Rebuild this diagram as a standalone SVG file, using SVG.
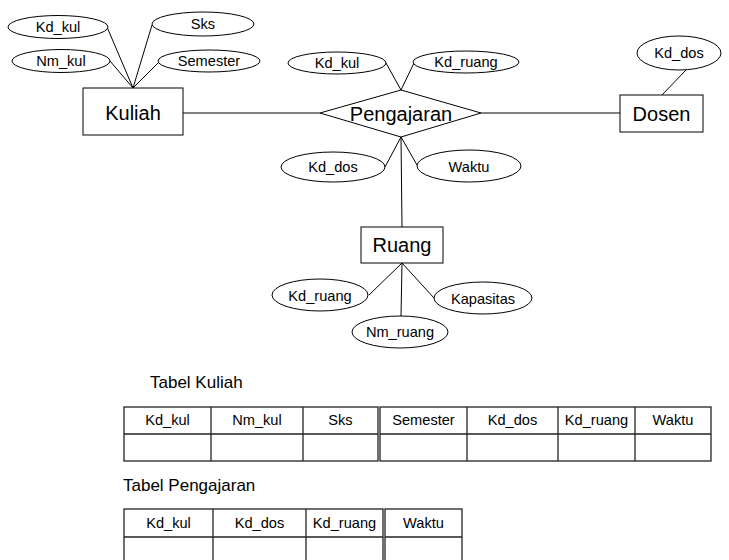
<svg xmlns="http://www.w3.org/2000/svg" width="729" height="560" viewBox="0 0 729 560">
  <style>
    .shape { fill: #fff; stroke: #000; stroke-width: 1; }
    .link { stroke: #000; stroke-width: 1; fill: none; }
    .attr { font-family: "Liberation Sans", Arial, sans-serif; font-size: 14.6px; fill: #000; text-anchor: middle; }
    .ent { font-family: "Liberation Sans", Arial, sans-serif; font-size: 20px; fill: #000; text-anchor: middle; }
    .title { font-family: "Liberation Sans", Arial, sans-serif; font-size: 17px; fill: #000; }
    .grid { fill: #fff; stroke: #222; stroke-width: 1.3; }
  </style>

  <!-- connectors -->
  <g id="connectors">
    <line class="link" x1="107" y1="27" x2="133" y2="88"/>
    <line class="link" x1="110" y1="61" x2="133" y2="88"/>
    <line class="link" x1="152" y1="25" x2="133" y2="88"/>
    <line class="link" x1="158" y1="63" x2="133" y2="88"/>
    <line class="link" x1="183" y1="113" x2="320" y2="113"/>
    <line class="link" x1="386" y1="63" x2="401" y2="90"/>
    <line class="link" x1="414" y1="63" x2="401" y2="90"/>
    <line class="link" x1="481" y1="113" x2="620" y2="113"/>
    <line class="link" x1="686" y1="70" x2="662" y2="95"/>
    <line class="link" x1="401" y1="137" x2="385" y2="167"/>
    <line class="link" x1="401" y1="137" x2="417" y2="165"/>
    <line class="link" x1="401" y1="137" x2="402" y2="227"/>
    <line class="link" x1="402" y1="263" x2="369" y2="295"/>
    <line class="link" x1="402" y1="263" x2="401" y2="316"/>
    <line class="link" x1="402" y1="263" x2="434" y2="298"/>
  </g>

  <!-- entity: Kuliah -->
  <g id="kuliah">
    <rect class="shape" x="83" y="88" width="100" height="47"/>
    <text class="ent" x="133" y="120">Kuliah</text>
  </g>
  <g id="kuliah-kd_kul">
    <ellipse class="shape" cx="58" cy="27" rx="50" ry="11.5"/>
    <text class="attr" x="58" y="32">Kd_kul</text>
  </g>
  <g id="kuliah-nm_kul">
    <ellipse class="shape" cx="61" cy="61" rx="49" ry="11.5"/>
    <text class="attr" x="61" y="66">Nm_kul</text>
  </g>
  <g id="kuliah-sks">
    <ellipse class="shape" cx="203" cy="24" rx="51" ry="12"/>
    <text class="attr" x="203" y="29">Sks</text>
  </g>
  <g id="kuliah-semester">
    <ellipse class="shape" cx="209" cy="61" rx="51" ry="11"/>
    <text class="attr" x="209" y="66">Semester</text>
  </g>

  <!-- relationship: Pengajaran -->
  <g id="pengajaran">
    <polygon class="shape" points="401,90 481,113 401,137 320,113"/>
    <text class="ent" x="401" y="121">Pengajaran</text>
  </g>
  <g id="pengajaran-kd_kul">
    <ellipse class="shape" cx="337" cy="63" rx="49" ry="11"/>
    <text class="attr" x="337" y="68">Kd_kul</text>
  </g>
  <g id="pengajaran-kd_ruang">
    <ellipse class="shape" cx="466" cy="62" rx="53" ry="11"/>
    <text class="attr" x="466" y="67">Kd_ruang</text>
  </g>
  <g id="pengajaran-kd_dos">
    <ellipse class="shape" cx="333" cy="167" rx="52" ry="15"/>
    <text class="attr" x="333" y="172">Kd_dos</text>
  </g>
  <g id="pengajaran-waktu">
    <ellipse class="shape" cx="469" cy="166" rx="52" ry="16"/>
    <text class="attr" x="469" y="172">Waktu</text>
  </g>

  <!-- entity: Dosen -->
  <g id="dosen">
    <rect class="shape" x="620" y="95" width="83" height="37"/>
    <text class="ent" x="661.5" y="121">Dosen</text>
  </g>
  <g id="dosen-kd_dos">
    <ellipse class="shape" cx="679" cy="53" rx="42" ry="17"/>
    <text class="attr" x="679" y="58">Kd_dos</text>
  </g>

  <!-- entity: Ruang -->
  <g id="ruang">
    <rect class="shape" x="361" y="227" width="82" height="36"/>
    <text class="ent" x="402" y="252">Ruang</text>
  </g>
  <g id="ruang-kd_ruang">
    <ellipse class="shape" cx="320" cy="295" rx="48" ry="16"/>
    <text class="attr" x="320" y="301">Kd_ruang</text>
  </g>
  <g id="ruang-nm_ruang">
    <ellipse class="shape" cx="400" cy="332" rx="48" ry="16"/>
    <text class="attr" x="400" y="337">Nm_ruang</text>
  </g>
  <g id="ruang-kapasitas">
    <ellipse class="shape" cx="483" cy="298" rx="49" ry="16"/>
    <text class="attr" x="483" y="304">Kapasitas</text>
  </g>

  <!-- table: Kuliah -->
  <g id="tabel-kuliah">
    <text class="title" x="150" y="388">Tabel Kuliah</text>
    <rect class="grid" x="124" y="407" width="254" height="54"/>
    <rect class="grid" x="380" y="407" width="331" height="54"/>
    <line class="grid" x1="124" y1="434" x2="378" y2="434"/>
    <line class="grid" x1="380" y1="434" x2="711" y2="434"/>
    <line class="grid" x1="211" y1="407" x2="211" y2="461"/>
    <line class="grid" x1="303" y1="407" x2="303" y2="461"/>
    <line class="grid" x1="467" y1="407" x2="467" y2="461"/>
    <line class="grid" x1="558" y1="407" x2="558" y2="461"/>
    <line class="grid" x1="635" y1="407" x2="635" y2="461"/>
    <text class="attr" x="167.5" y="425">Kd_kul</text>
    <text class="attr" x="257" y="425">Nm_kul</text>
    <text class="attr" x="340.5" y="425">Sks</text>
    <text class="attr" x="423.5" y="425">Semester</text>
    <text class="attr" x="512.5" y="425">Kd_dos</text>
    <text class="attr" x="596.5" y="425">Kd_ruang</text>
    <text class="attr" x="673" y="425">Waktu</text>
  </g>

  <!-- table: Pengajaran -->
  <g id="tabel-pengajaran">
    <text class="title" x="123" y="491">Tabel Pengajaran</text>
    <rect class="grid" x="124" y="509" width="259" height="60"/>
    <rect class="grid" x="385" y="509" width="77" height="60"/>
    <line class="grid" x1="124" y1="537" x2="383" y2="537"/>
    <line class="grid" x1="385" y1="537" x2="462" y2="537"/>
    <line class="grid" x1="213" y1="509" x2="213" y2="569"/>
    <line class="grid" x1="306" y1="509" x2="306" y2="569"/>
    <text class="attr" x="168.5" y="528">Kd_kul</text>
    <text class="attr" x="259.5" y="528">Kd_dos</text>
    <text class="attr" x="344.5" y="528">Kd_ruang</text>
    <text class="attr" x="423.5" y="528">Waktu</text>
  </g>
</svg>
